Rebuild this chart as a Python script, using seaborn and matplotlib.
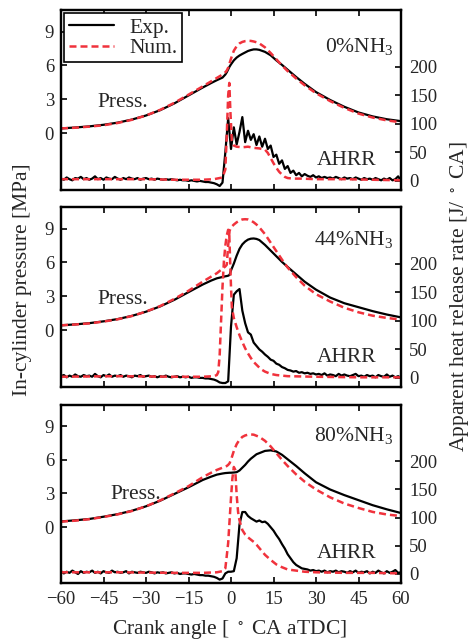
import matplotlib
matplotlib.use("Agg")
import matplotlib.pyplot as plt
import numpy as np
import seaborn as sns

# ------------------------------------------------------------------
# Data
# ------------------------------------------------------------------
CASES = ["0%NH$_3$", "44%NH$_3$", "80%NH$_3$"]

# crank angle grid for the pressure traces [deg CA aTDC]
P_CA = [-60, -55, -50, -45, -40, -35, -30, -25, -20, -15, -10, -7, -5, -3, -2, -1.5,
        -1, -0.5, 0, 1, 2, 3, 4, 5, 6, 7, 8, 9, 10, 12, 14, 16, 18, 20, 23, 26,
        30, 35, 40, 45, 50, 55, 60]

p_exp_0 = [0.44, 0.52, 0.62, 0.76, 0.95, 1.22, 1.58, 2.05, 2.65, 3.35, 4.05, 4.45, 4.7, 4.93,
           5.2, 5.4, 5.65, 5.9, 6.1, 6.45, 6.7, 6.88, 7.02, 7.15, 7.28, 7.36, 7.42, 7.42, 7.38,
           7.2, 6.9, 6.45, 6.05, 5.62, 4.98, 4.38, 3.65, 2.95, 2.35, 1.85, 1.5, 1.25, 1.08]
p_num_0 = [0.44, 0.5, 0.6, 0.72, 0.92, 1.2, 1.58, 2.08, 2.7, 3.42, 4.15, 4.6, 4.9, 5.2,
           5.4, 5.55, 5.8, 6.2, 6.6, 7.3, 7.7, 7.95, 8.08, 8.15, 8.18, 8.17, 8.12, 8.05, 7.95,
           7.6, 7.1, 6.55, 6.0, 5.5, 4.85, 4.25, 3.55, 2.85, 2.25, 1.75, 1.4, 1.15, 0.98]

p_exp_44 = [0.45, 0.53, 0.64, 0.8, 1.0, 1.28, 1.65, 2.12, 2.7, 3.38, 4.05, 4.4, 4.6, 4.72,
            4.78, 4.8, 4.83, 4.9, 5.3, 5.9, 6.6, 7.2, 7.6, 7.85, 8.02, 8.1, 8.12, 8.08, 7.98,
            7.55, 7.05, 6.55, 6.05, 5.6, 4.95, 4.3, 3.6, 2.9, 2.4, 2.05, 1.7, 1.4, 1.15]
p_num_44 = [0.45, 0.52, 0.62, 0.78, 0.98, 1.27, 1.66, 2.15, 2.78, 3.5, 4.3, 4.75, 5.05, 5.45,
            5.65, 5.8, 7.5, 8.8, 9.1, 9.35, 9.55, 9.7, 9.8, 9.82, 9.8, 9.7, 9.55, 9.35, 9.1,
            8.5, 7.75, 7.0, 6.25, 5.55, 4.7, 3.95, 3.2, 2.55, 2.0, 1.6, 1.3, 1.1, 0.95]

p_exp_80 = [0.5, 0.6, 0.72, 0.92, 1.15, 1.45, 1.85, 2.35, 2.95, 3.55, 4.2, 4.5, 4.68, 4.78,
            4.82, 4.83, 4.84, 4.85, 4.85, 4.87, 4.9, 5.05, 5.3, 5.55, 5.85, 6.1, 6.3, 6.5, 6.6,
            6.8, 6.85, 6.75, 6.45, 6.05, 5.45, 4.8, 4.0, 3.35, 2.85, 2.4, 1.95, 1.58, 1.25]
p_num_80 = [0.48, 0.57, 0.7, 0.9, 1.13, 1.43, 1.85, 2.38, 3.0, 3.65, 4.45, 4.85, 5.1, 5.3,
            5.4, 5.45, 5.55, 5.7, 6.0, 6.8, 7.4, 7.8, 8.05, 8.18, 8.25, 8.27, 8.25, 8.15, 8.05,
            7.7, 7.2, 6.6, 6.0, 5.45, 4.7, 4.05, 3.35, 2.65, 2.1, 1.7, 1.35, 1.12, 0.98]

# measured heat release rate, 1 deg resolution from -60 to 60 [J/deg CA]
EXP_CA = np.arange(-60, 61, 1)

q_exp_0 = [4, 2, 6, 3, 1, 5, 4, 7, 3, 5,
           2, 4, 8, 3, 5, 2, 6, 4, 3, 7,
           4, 2, 5, 3, 6, 4, 3, 5, 2, 4,
           5, 3, 4, 2, 4, 3, 2, 3, 2, 3,
           2, 1, 2, 1, 1, 0, 1, 0, -1, 0,
           -1, -2, -2, -3, -4, -6, -9, -3, 50, 110,
           56, 94, 64, 86, 112, 68, 88, 72, 82, 63,
           78, 60, 74, 56, 62, 42, 46, 30, 36, 21,
           26, 14, 18, 10, 14, 8, 12, 9, 7, 10,
           6, 8, 5, 7, 5, 6, 4, 7, 5, 3,
           6, 4, 5, 3, 6, 4, 2, 5, 3, 4,
           2, 5, 3, 1, 4, 2, 5, 1, 3, 8, 0]

q_exp_44 = [3, 5, 1, 4, 2, 6, 3, 2, 5, 3,
            4, 2, 7, 3, 1, 5, 3, 6, 2, 4,
            3, 5, 2, 4, 3, 1, 4, 3, 5, 2,
            3, 4, 2, 3, 1, 3, 2, 4, 2, 1,
            2, 3, 1, 2, 1, 2, 0, 1, 1, 0,
            0, -1, -1, -2, -3, -5, -8, -9, -9, -6,
            90, 146, 152, 156, 118, 96, 80, 76, 62, 56,
            50, 46, 41, 37, 32, 30, 25, 23, 19, 17,
            14, 13, 11, 12, 9, 10, 8, 9, 7, 8,
            6, 7, 5, 8, 4, 6, 5, 3, 7, 4,
            6, 4, 3, 5, 7, 3, 4, 2, 5, 3,
            4, 1, 5, 3, 2, 6, 2, 4, 1, 3, 0]

q_exp_80 = [5, 1, 4, 2, 6, 3, 0, 5, 2, 4,
            3, 6, 2, 4, 1, 5, 3, 2, 6, 3,
            4, 2, 3, 5, 1, 4, 3, 2, 4, 3,
            2, 4, 3, 1, 3, 2, 3, 1, 2, 3,
            1, 2, 0, 1, 1, 0, -1, 0, -1, -2,
            -2, -3, -3, -4, -5, -7, -10, -8, 1, 4,
            4, 5, 28, 88, 110, 110, 103, 99, 96, 93,
            95, 92, 93, 89, 83, 77, 69, 62, 53, 45,
            35, 28, 21, 16, 13, 10, 9, 8, 6, 7,
            5, 6, 4, 6, 3, 5, 4, 6, 3, 5,
            4, 2, 5, 3, 6, 2, 4, 3, 5, 1,
            4, 2, 6, 3, 1, 5, 2, 4, 7, 2, 3]

# simulated heat release rate (smooth, own angle points)
q_num_ca_0 = [-60, -50, -40, -30, -20, -10, -6, -4, -3, -2, -1.5, -1, -0.6, -0.2, 0.3, 1, 2, 4,
              6, 8, 10, 12, 13, 14, 15, 16, 17, 18, 19, 20, 22, 25, 30, 40, 50, 60]
q_num_0 = [3, 3, 3, 3, 2, 2, 3, 5, 6, 20, 80, 150, 172, 120, 70, 62, 60, 59,
           60, 58, 57, 55, 49, 40, 31, 23, 16, 11, 7, 5, 4, 4, 3, 3, 2, 1]

q_num_ca_44 = [-60, -40, -20, -10, -6, -5, -4.5, -4, -3.5, -3, -2.5, -2, -1.5, -1, -0.6, -0.3,
               0, 0.3, 1, 2, 3, 4, 5, 6, 7, 8, 9, 10, 11, 12, 14, 16, 20, 30, 45, 60]
q_num_44 = [2, 3, 2, 2, 3, 5, 10, 40, 100, 160, 205, 232, 250, 260, 250, 205,
            160, 124, 105, 89, 75, 63, 52, 43, 35, 28, 23, 18, 14, 11, 7, 5, 3, 2, 1, 1]

q_num_ca_80 = [-60, -40, -20, -10, -5, -3, -2, -1.5, -1, -0.5, 0, 0.5, 1, 1.5, 2, 2.5, 3, 4,
               5, 6, 7, 8, 9, 10, 11, 12, 14, 16, 18, 20, 23, 26, 30, 40, 50, 60]
q_num_80 = [3, 3, 2, 2, 3, 5, 10, 32, 55, 95, 135, 170, 190, 185, 140, 110, 95, 78,
            70, 65, 61, 57, 52, 46, 40, 34, 25, 17, 12, 8, 6, 4, 3, 2, 2, 1]

P_EXP = [p_exp_0, p_exp_44, p_exp_80]
P_NUM = [p_num_0, p_num_44, p_num_80]
Q_EXP = [q_exp_0, q_exp_44, q_exp_80]
Q_NUM = [(q_num_ca_0, q_num_0), (q_num_ca_44, q_num_44), (q_num_ca_80, q_num_80)]

X_TICKS = [-60, -45, -30, -15, 0, 15, 30, 45, 60]
P_TICKS = [0, 3, 6, 9]
Q_TICKS = [0, 50, 100, 150, 200]

# ------------------------------------------------------------------
# Style
# ------------------------------------------------------------------
sns.set_theme(style="ticks")
plt.rcParams["font.family"] = ["Liberation Serif", "DejaVu Serif"]
plt.rcParams["mathtext.default"] = "regular"
plt.rcParams["axes.linewidth"] = 1.6

RED = "#f0323c"
TEXT_FS = 15.5
TICK_FS = 13.5
EXP_KW = dict(color="black", linewidth=1.6)
NUM_KW = dict(color=RED, linewidth=1.8, linestyle=(0, (2.8, 1.6)))

# panel boxes in pixels: (top, bottom)
W, H = 472, 641
PANELS = [(10, 190), (207, 387), (405, 583)]
LEFT, RIGHT = 61, 401

# label positions (x, pressure) per panel
CASE_POS = [(57.5, 7.2), (57.5, 7.55), (57.5, 7.7)]
PRESS_POS = [(-47.3, 2.32), (-47.3, 2.3), (-42.7, 2.47)]
AHRR_POS = [(30.4, -2.8), (30.4, -2.83), (30.4, -2.8)]

fig = plt.figure(figsize=(W / 100, H / 100), dpi=100)

for i, (top, bottom) in enumerate(PANELS):
    ax = fig.add_axes([LEFT / W, 1 - bottom / H, (RIGHT - LEFT) / W, (bottom - top) / H])
    ax2 = ax.twinx()

    sns.lineplot(x=EXP_CA, y=Q_EXP[i], ax=ax2, estimator=None, sort=False, **EXP_KW)
    sns.lineplot(x=Q_NUM[i][0], y=Q_NUM[i][1], ax=ax2, estimator=None, sort=False, **NUM_KW)
    l_exp = sns.lineplot(x=P_CA, y=P_EXP[i], ax=ax, estimator=None, sort=False, **EXP_KW).lines[-1]
    l_num = sns.lineplot(x=P_CA, y=P_NUM[i], ax=ax, estimator=None, sort=False, **NUM_KW).lines[-1]

    ax.set_xlim(-60, 60)
    ax.set_ylim(-5.0, 10.9)
    ax2.set_ylim(-16, 300)
    ax.set_xticks(X_TICKS)
    ax.set_yticks(P_TICKS)
    ax2.set_yticks(Q_TICKS)
    ax.set_xlabel("")
    ax.set_ylabel("")
    ax2.set_ylabel("")

    ax.tick_params(axis="x", which="both", direction="in", top=True, bottom=True,
                   length=4, width=1.4, labelsize=TICK_FS, pad=6,
                   labelbottom=(i == len(PANELS) - 1))
    ax.tick_params(axis="y", direction="in", left=True, right=False,
                   length=4, width=1.4, labelsize=TICK_FS, pad=5)
    ax2.tick_params(axis="y", direction="in", left=False, right=True,
                    length=4, width=1.4, labelsize=TICK_FS, pad=6)
    for sp in list(ax.spines.values()) + list(ax2.spines.values()):
        sp.set_linewidth(1.6)
        sp.set_color("black")

    ax.text(*CASE_POS[i], CASES[i], ha="right", va="baseline", fontsize=TEXT_FS)
    ax.text(*PRESS_POS[i], "Press.", ha="left", va="baseline", fontsize=TEXT_FS)
    ax.text(*AHRR_POS[i], "AHRR", ha="left", va="baseline", fontsize=TEXT_FS)

    if i == 0:
        leg = ax2.legend([l_exp, l_num], ["Exp.", "Num."], loc="upper left",
                         fontsize=TEXT_FS, frameon=True, fancybox=False, framealpha=1,
                         edgecolor="black", borderaxespad=0.15, borderpad=0.2,
                         handlelength=2.1, handletextpad=0.75, labelspacing=0.02)
        leg.get_frame().set_linewidth(1.2)

fig.text(0.487, 0.011, "Crank angle [ $^\\circ$ CA aTDC]", ha="center", va="baseline",
         fontsize=TEXT_FS)
fig.text(0.047, 0.563, "In-cylinder pressure [MPa]", rotation=90, ha="center", va="center",
         fontsize=TEXT_FS)
fig.text(0.974, 0.537, "Apparent heat release rate [J/ $^\\circ$ CA]", rotation=90,
         ha="center", va="center", fontsize=TEXT_FS)

fig.savefig("out.png", dpi=100, facecolor="white")
